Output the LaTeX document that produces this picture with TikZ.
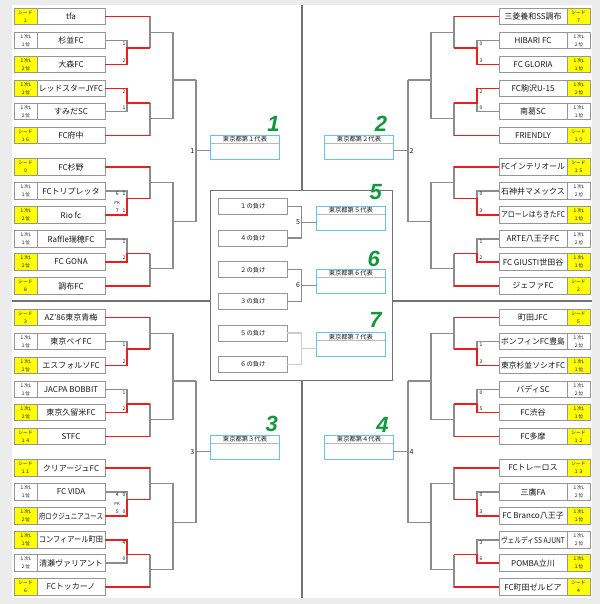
\documentclass[tikz,border=0pt]{standalone}
\usepackage{graphicx}
\usepackage{fontspec}
\setmainfont{Noto Sans CJK JP}
\newfontfamily\gfont{Liberation Sans}
\usetikzlibrary{calc}
\definecolor{yel}{RGB}{255,255,0}
\definecolor{bgrey}{RGB}{140,140,140}
\definecolor{rred}{RGB}{235,30,30}
\definecolor{boxgrey}{RGB}{150,150,150}
\definecolor{qblue}{RGB}{100,195,240}
\definecolor{gnum}{RGB}{20,150,60}
\definecolor{crossgrey}{RGB}{115,115,115}
\definecolor{txt}{RGB}{25,25,25}
\newcommand\fitname[1]{\sbox0{#1}\ifdim\wd0>64pt\resizebox{64pt}{\height}{\usebox0}\else\usebox0\fi}
\newcommand\seedt[1]{シード\\#1}
\newcommand\fsta{１次L\\１位}
\newcommand\snda{１次L\\２位}
\tikzset{
 seedbox/.style={draw=boxgrey,line width=0.8pt,minimum width=23pt,minimum height=16.5pt,inner sep=0pt,outer sep=0pt,align=center,font=\fontsize{4.7}{7.8}\selectfont,text=txt},
 namebox/.style={draw=boxgrey,line width=0.8pt,fill=white,minimum width=68pt,minimum height=16.5pt,inner sep=0pt,outer sep=0pt,font=\fontsize{8}{8.5}\selectfont,text=txt},
 bline/.style={draw=bgrey,line width=1.1pt},
 lline/.style={draw=gray!40,line width=1.1pt},
 rline/.style={draw=rred,line width=1.1pt},
 sc/.style={font=\fontsize{5}{5}\selectfont,inner sep=0.5pt,text=txt},
 mlab/.style={font=\fontsize{7}{7}\selectfont,inner sep=1.5pt,text=txt},
 qhead/.style={minimum width=68.5pt,minimum height=8.3pt,inner sep=0pt,outer sep=0pt,font=\fontsize{6.3}{6.3}\selectfont,text=txt,fill=white},
 qbody/.style={minimum width=68.5pt,minimum height=15.7pt,inner sep=0pt,outer sep=0pt,fill=white},
 losebox/.style={draw=boxgrey,line width=0.8pt,minimum width=69pt,minimum height=16pt,inner sep=0pt,outer sep=0pt,font=\fontsize{6.3}{6.3}\selectfont,text=txt},
 cbox/.style={draw=crossgrey,line width=1.4pt,minimum width=182pt,minimum height=190pt,inner sep=0pt,outer sep=0pt},
 cross/.style={draw=crossgrey,line width=1.6pt},
 gn/.style={font=\gfont\fontsize{22}{22}\selectfont\bfseries\itshape,text=gnum,inner sep=0pt}
}
\newcommand\tL[5]{\node[seedbox,fill=#4] (Ls#1) at (25.5,#2) {#3};
 \node[namebox] (L#1) at (71,#2) {\fitname{#5}};}
\newcommand\tR[5]{\node[seedbox,fill=#4] (Rs#1) at (578.5,#2) {#3};
 \node[namebox] (R#1) at (533,#2) {\fitname{#5}};}
\newcommand\grp[6]{%
 \pgfmathtruncatemacro\rowa{#2+1}%
 \pgfmathtruncatemacro\rowb{#2+2}%
 \pgfmathtruncatemacro\rowc{#2+3}%
 \pgfmathtruncatemacro\rowd{#2+4}%
 \pgfmathtruncatemacro\rowe{#2+5}%
 \pgfmathtruncatemacro\rowf{#2+6}%
 \coordinate (#1#2a1) at (\xA,#3+48);
 \coordinate (#1#2a2) at (\xB,#3+48);
 \coordinate (#1#2b1) at (\xA,#3+103);
 \coordinate (#1#2b2) at (\xB,#3+103);
 \coordinate (#1#2c) at (\xB,#3+32.3);
 \coordinate (#1#2d) at (\xB,#3+118.3);
 \coordinate (#1#2e) at (\xC,#3+#4);
 \coordinate (#1#2f) at (\xD,#3+#4);
 \draw[bline] (#1\rowb) -| (#1#2a1) |- (#1\rowc);
 \draw[bline] (#1#2a1) -- (#1#2a2);
 \draw[bline] (#1\rowd) -| (#1#2b1) |- (#1\rowe);
 \draw[bline] (#1#2b1) -- (#1#2b2);
 \draw[bline] (#1\rowa) -| (#1#2a2);
 \draw[bline] (#1\rowf) -| (#1#2b2);
 \draw[bline] (#1#2c) -| (#1#2e) |- (#1#2d);
 \draw[bline] (#1#2e) -- (#1#2f);
 \draw[rline] (#1\rowa) -- (#1\rowa -| #1#2a2);
 \draw[rline] (#1\rowf) -- (#1\rowf -| #1#2b2);
 \ifnum#5=1 \draw[rline] (#1\rowb) -| (#1#2a1) -- (#1#2a2);\else\draw[rline] (#1\rowc) -| (#1#2a1) -- (#1#2a2);\fi
 \ifnum#6=1 \draw[rline] (#1\rowd) -| (#1#2b1) -- (#1#2b2);\else\draw[rline] (#1\rowe) -| (#1#2b1) -- (#1#2b2);\fi
}
\newcommand\scp[6]{\node[sc,anchor=#2] at (#1,#3+3) {#5};\node[sc,anchor=#2] at (#1,#4-4) {#6};}
\newcommand\qual[4]{%
 \node[qhead] (#1h) at (#2,#3+4.15) {#4};
 \node[qbody,anchor=north] (#1b) at (#1h.south) {};
 \draw[qblue,line width=0.9pt] (#1h.north west) rectangle (#1b.south east);
 \draw[gray!55,line width=1.1pt] (#1h.south west) -- (#1h.south east);
}
\begin{document}
\begin{tikzpicture}[x=1pt,y=-1pt]
\useasboundingbox (0,0) rectangle (600,604);
\fill[gray!15] (0,0) rectangle (600,604);
\fill[white] (12,5) rectangle (592,598);
% centre box and cross
\node[cbox] (CB) at (301.7,285.7) {};
\coordinate (VT) at (302,5); \coordinate (VB) at (302,598);
\coordinate (HL) at (12,301); \coordinate (HR) at (592,301);
\draw[cross] (VT) -- (VT |- CB.north);
\draw[cross] (VB) -- (VB |- CB.south);
\draw[cross] (HL) -- (HL -| CB.west);
\draw[cross] (HR) -- (HR -| CB.east);
% left teams
\tL{1}{16.5}{\seedt{１}}{yel}{tfa}
\tL{2}{40.5}{\fsta}{white}{杉並FC}
\tL{3}{64.5}{\snda}{yel}{大森FC}
\tL{4}{88.5}{\fsta}{yel}{レッドスターJYFC}
\tL{5}{111.5}{\snda}{white}{すみだSC}
\tL{6}{135.5}{\seedt{１６}}{yel}{FC府中}
\tL{7}{167}{\seedt{９}}{yel}{FC杉野}
\tL{8}{191}{\fsta}{white}{FCトリプレッタ}
\tL{9}{215}{\snda}{yel}{Rio fc}
\tL{10}{239}{\fsta}{white}{Raffle瑞穂FC}
\tL{11}{262}{\snda}{yel}{FC GONA}
\tL{12}{286}{\seedt{８}}{yel}{調布FC}
\tL{13}{317.5}{\seedt{３}}{yel}{AZ'86東京青梅}
\tL{14}{341.5}{\fsta}{white}{東京ベイFC}
\tL{15}{365.5}{\snda}{yel}{エスフォルソFC}
\tL{16}{389.5}{\fsta}{white}{JACPA BOBBIT}
\tL{17}{412.5}{\snda}{yel}{東京久留米FC}
\tL{18}{436.5}{\seedt{１４}}{yel}{STFC}
\tL{19}{468}{\seedt{１１}}{yel}{クリアージュFC}
\tL{20}{492}{\fsta}{white}{FC VIDA}
\tL{21}{516}{\snda}{yel}{府ロクジュニアユース}
\tL{22}{540}{\fsta}{yel}{コンフィアール町田}
\tL{23}{563}{\snda}{white}{清瀬ヴァリアント}
\tL{24}{587}{\seedt{６}}{yel}{FCトッカーノ}
% right teams
\tR{1}{16.5}{\seedt{７}}{yel}{三菱養和SS調布}
\tR{2}{40.5}{\snda}{white}{HIBARI FC}
\tR{3}{64.5}{\fsta}{yel}{FC GLORIA}
\tR{4}{88.5}{\snda}{yel}{FC駒沢U-15}
\tR{5}{111.5}{\fsta}{white}{南葛SC}
\tR{6}{135.5}{\seedt{１０}}{yel}{FRIENDLY}
\tR{7}{167}{\seedt{１５}}{yel}{FCインテリオール}
\tR{8}{191}{\snda}{white}{石神井マメックス}
\tR{9}{215}{\fsta}{yel}{アローレはちきたFC}
\tR{10}{239}{\snda}{white}{ARTE八王子FC}
\tR{11}{262}{\fsta}{yel}{FC GIUSTI世田谷}
\tR{12}{286}{\seedt{２}}{yel}{ジェファFC}
\tR{13}{317.5}{\seedt{５}}{yel}{町田JFC}
\tR{14}{341.5}{\snda}{white}{ボンフィンFC豊島}
\tR{15}{365.5}{\fsta}{yel}{東京杉並ソシオFC}
\tR{16}{389.5}{\snda}{white}{バディSC}
\tR{17}{412.5}{\fsta}{yel}{FC渋谷}
\tR{18}{436.5}{\seedt{１２}}{yel}{FC多摩}
\tR{19}{468}{\seedt{１３}}{yel}{FCトレーロス}
\tR{20}{492}{\snda}{white}{三鷹FA}
\tR{21}{516}{\fsta}{yel}{FC Branco八王子}
\tR{22}{540}{\snda}{white}{ヴェルディSS AJUNT}
\tR{23}{563}{\fsta}{yel}{POMBA立川}
\tR{24}{587}{\seedt{４}}{yel}{FC町田ゼルビア}
% brackets
\def\xA{127}\def\xB{150}\def\xC{173}\def\xD{196}
\grp{L}{0}{0}{80}{0}{1}
\grp{L}{6}{150.5}{71.2}{0}{0}
\grp{L}{12}{301}{80}{0}{0}
\grp{L}{18}{451.5}{71.2}{0}{1}
\def\xA{477}\def\xB{454}\def\xC{431}\def\xD{408}
\grp{R}{0}{0}{80}{0}{1}
\grp{R}{6}{150.5}{71.2}{0}{0}
\grp{R}{12}{301}{80}{0}{0}
\grp{R}{18}{451.5}{71.2}{0}{0}
% scores
\scp{126}{east}{40.5}{64.5}{1}{2}
\scp{126}{east}{88.5}{111.5}{2}{1}
\scp{126}{east}{191}{215}{6\hspace{4pt}1}{7\hspace{4pt}1}
\node[sc,anchor=east,font=\fontsize{4.2}{4.2}\selectfont] at (120.5,202.5) {PK};
\scp{126}{east}{239}{262}{1}{2}
\scp{126}{east}{341.5}{365.5}{1}{2}
\scp{126}{east}{389.5}{412.5}{1}{2}
\scp{126}{east}{492}{516}{4\hspace{4pt}0}{5\hspace{4pt}0}
\node[sc,anchor=east,font=\fontsize{4.2}{4.2}\selectfont] at (120.5,503.5) {PK};
\scp{126}{east}{540}{563}{4}{0}
\scp{478.8}{west}{40.5}{64.5}{0}{3}
\scp{478.8}{west}{88.5}{111.5}{2}{0}
\scp{478.8}{west}{191}{215}{0}{3}
\scp{478.8}{west}{239}{262}{1}{2}
\scp{478.8}{west}{341.5}{365.5}{1}{3}
\scp{478.8}{west}{389.5}{412.5}{0}{5}
\scp{478.8}{west}{492}{516}{0}{3}
\scp{478.8}{west}{540}{563}{3}{6}
% qualifier boxes
\qual{Q1}{245}{135}{東京都第１代表}
\qual{Q2}{359}{135}{東京都第２代表}
\qual{Q3}{245}{435.2}{東京都第３代表}
\qual{Q4}{359}{435.2}{東京都第４代表}
\qual{Q5}{350.85}{206}{東京都第５代表}
\qual{Q6}{350.85}{269.3}{東京都第６代表}
\qual{Q7}{350.85}{332.6}{東京都第７代表}
% final rounds of each quarter
\coordinate (J1) at ($(L0f)!.5!(L6f)$);
\coordinate (J3) at ($(L12f)!.5!(L18f)$);
\coordinate (J2) at ($(R0f)!.5!(R6f)$);
\coordinate (J4) at ($(R12f)!.5!(R18f)$);
\draw[bline] (L0f) -- (L6f); \draw[bline] (J1) -- (J1 -| Q1b.west);
\draw[bline] (L12f) -- (L18f); \draw[bline] (J3) -- (J3 -| Q3b.west);
\draw[bline] (R0f) -- (R6f); \draw[bline] (J2) -- (J2 -| Q2b.east);
\draw[bline] (R12f) -- (R18f); \draw[bline] (J4) -- (J4 -| Q4b.east);
\node[mlab,anchor=east] (N1) at (J1) {1};
\node[mlab,anchor=east] (N3) at (J3) {3};
\node[mlab,anchor=west] (N2) at (J2) {2};
\node[mlab,anchor=west] (N4) at (J4) {4};
% consolation section
\node[losebox] (M1) at (252.8,206.3) {１の負け};
\node[losebox] (M4) at (252.8,238) {４の負け};
\node[losebox] (M2) at (252.8,269.7) {２の負け};
\node[losebox] (M3) at (252.8,301.3) {３の負け};
\node[losebox] (M5) at (252.8,333) {５の負け};
\node[losebox] (M6) at (252.8,364.5) {６の負け};
\coordinate (K5) at (301.7,222.2);
\coordinate (K6) at (301.7,285.5);
\coordinate (K7) at (301.7,348.7);
\draw[bline] (M1) -| (K5) |- (M4); \draw[bline] (K5) -- (K5 -| Q5b.west);
\draw[bline] (M2) -| (K6) |- (M3); \draw[bline] (K6) -- (K6 -| Q6b.west);
\draw[lline] (M5) -| (K7) |- (M6); \draw[lline] (K7) -- (K7 -| Q7b.west);
\node[mlab,anchor=east] (N5) at (K5) {5};
\node[mlab,anchor=east] (N6) at (K6) {6};
% green numbers
\node[gn] (G1) at (273.5,123.5) {1};
\node[gn] (G2) at (381,123.5) {2};
\node[gn] (G3) at (271.7,424) {3};
\node[gn] (G4) at (382.5,425) {4};
\node[gn] (G5) at (375.8,192.5) {5};
\node[gn] (G6) at (373.8,259) {6};
\node[gn] (G7) at (375.5,319.7) {7};
\end{tikzpicture}
\end{document}
